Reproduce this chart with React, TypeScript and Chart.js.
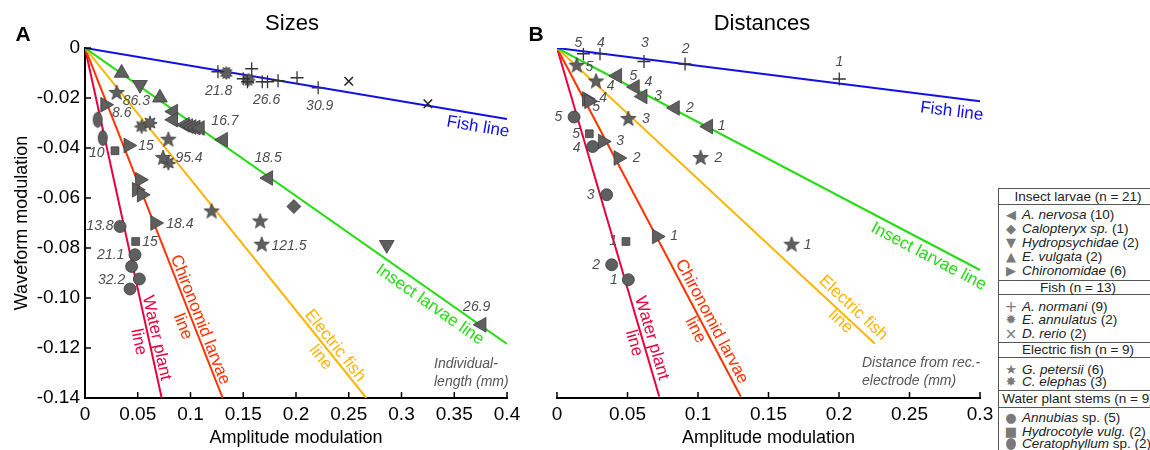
import React, { useEffect, useRef } from 'react';
import { Chart, registerables } from 'chart.js';
Chart.register(...registerables);

const FONT = '"Liberation Sans", Arial, Helvetica, sans-serif';
const FILL = '#5f5f5f';
const EDGE = '#3c3c3c';

// ---------- tick labels ----------
const yTickLabels = ['-0.14', '-0.12', '-0.10', '-0.08', '-0.06', '-0.04', '-0.02', '0'];
const xTickLabelsA = ['0', '0.05', '0.1', '0.15', '0.2', '0.25', '0.3', '0.35', '0.4'];
const xTickLabelsB = ['0', '0.05', '0.1', '0.15', '0.2', '0.25', '0.3'];

// ---------- reference lines (origin -> end point) ----------
const lineNames = ['Fish line', 'Insect larvae line', 'Electric fish line', 'Chironomid larvae line', 'Water plant line'];
const lineColors = ['#1010e6', '#22dd10', '#ffb400', '#ff3300', '#e8003c'];
const lineEndsA = [[0.4, -0.0284], [0.4, -0.1184], [0.2667, -0.14], [0.1305, -0.14], [0.0727, -0.14]];
const lineEndsB = [[0.3, -0.0213], [0.3, -0.0888], [0.2255, -0.1183], [0.1303, -0.1394], [0.0725, -0.1394]];
const lineLabelTexts = [['Fish line'], ['Insect larvae line'], ['Electric fish', 'line'], ['Chironomid larvae', 'line'], ['Water plant', 'line']];
const lineLabelPosA = [[0.3725, -0.0316], [0.327, -0.1027], [0.237, -0.1191], [0.109, -0.1087], [0.0679, -0.116]];
const lineLabelPosB = [[0.28, -0.0254], [0.2635, -0.0834], [0.2101, -0.104], [0.1097, -0.1094], [0.0672, -0.116]];

// ---------- panel A (sizes) ----------
const nervosaA = [[0.0837, -0.0254], [0.0837, -0.0287], [0.0948, -0.0307], [0.098, -0.0312], [0.1011, -0.0316], [0.105, -0.0318], [0.109, -0.032], [0.131, -0.0367], [0.1738, -0.052], [0.376, -0.1107]];
const calopteryxA = [[0.198, -0.0634]];
const hydropsychidaeA = [[0.0521, -0.0147], [0.286, -0.0787]];
const vulgataA = [[0.0347, -0.01], [0.071, -0.0199]];
const chironomidaeA = [[0.019, -0.0227], [0.041, -0.039], [0.052, -0.0527], [0.049, -0.0567], [0.0537, -0.0587], [0.0664, -0.07]];
const normaniA = [[0.126, -0.0095], [0.158, -0.0083], [0.15, -0.0123], [0.154, -0.0135], [0.168, -0.0135], [0.173, -0.0135], [0.183, -0.0131], [0.201, -0.0119], [0.221, -0.0159]];
const annulatusA = [[0.134, -0.01], [0.155, -0.0127]];
const rerioA = [[0.25, -0.0133], [0.325, -0.0223]];
const petersiiA = [[0.03, -0.018], [0.079, -0.0367], [0.074, -0.044], [0.12, -0.0654], [0.166, -0.0694], [0.1675, -0.0787]];
const elephasA = [[0.0537, -0.0314], [0.0616, -0.03], [0.079, -0.046]];
const annubiasA = [[0.0332, -0.0714], [0.0474, -0.0827], [0.0442, -0.0874], [0.0515, -0.0924], [0.0427, -0.0964]];
const hydrocotyleA = [[0.0284, -0.0411], [0.048, -0.0774]];
const ceratophyllumA = [[0.012, -0.0287], [0.0168, -0.036]];

const sizeLabelTexts = ['21.8', '26.6', '30.9', '86.3', '8.6', '16.7', '15', '10', '95.4', '18.5', '13.8', '18.4', '15', '21.1', '32.2', '121.5', '26.9'];
const sizeLabelPos = [[0.1267, -0.0174], [0.1722, -0.0207], [0.2225, -0.0234], [0.0487, -0.0211], [0.0348, -0.026], [0.1327, -0.0294], [0.0578, -0.0394], [0.0111, -0.0419], [0.0986, -0.0439], [0.1735, -0.0439], [0.0142, -0.0714], [0.09, -0.0703], [0.0616, -0.0778], [0.0244, -0.0827], [0.0253, -0.0927], [0.1934, -0.0794], [0.3713, -0.1036]];

// ---------- panel B (distances) ----------
const nervosaB = [[0.0428, -0.0111], [0.0553, -0.0156], [0.0608, -0.0194], [0.0837, -0.024], [0.1073, -0.0314]];
const chironomidaeB = [[0.0211, -0.0204], [0.0227, -0.0213], [0.0324, -0.0374], [0.0435, -0.044], [0.0707, -0.0754]];
const normaniB = [[0.0187, -0.0023], [0.0305, -0.0023], [0.0617, -0.0054], [0.0908, -0.0064], [0.2002, -0.0124]];
const petersiiB = [[0.014, -0.0071], [0.0277, -0.0134], [0.0506, -0.0284], [0.1019, -0.044], [0.1664, -0.0787]];
const annubiasB = [[0.0121, -0.0276], [0.0253, -0.0394], [0.0352, -0.0587], [0.0388, -0.0867], [0.0506, -0.0927]];
const hydrocotyleB = [[0.0229, -0.0343], [0.0489, -0.0774]];

const distLabelTexts = ['5', '4', '3', '2', '1', '5', '4', '3', '2', '1', '5', '4', '3', '2', '1', '4', '5', '3', '2', '1', '5', '4', '3', '2', '1', '5', '1'];
const distLabelPos = [
  [0.0151, 0.002], [0.0312, 0.002], [0.0624, 0.002], [0.0913, -0.0003], [0.2002, -0.0058],
  [0.0229, -0.0078], [0.0381, -0.0154], [0.0631, -0.0284], [0.1144, -0.044], [0.1778, -0.0787],
  [0.0541, -0.0111], [0.0648, -0.0138], [0.0718, -0.0194], [0.0943, -0.024], [0.1168, -0.0314],
  [0.0328, -0.02], [0.0277, -0.0238], [0.0447, -0.0374], [0.0565, -0.044], [0.083, -0.0754],
  [0.0009, -0.0276], [0.014, -0.04], [0.0239, -0.0587], [0.0277, -0.0867], [0.0404, -0.0927],
  [0.0135, -0.0343], [0.0399, -0.0774],
];

// ---------- legend ----------
const legendHeaders = ['Insect larvae (n = 21)', 'Fish (n = 13)', 'Electric fish (n = 9)', 'Water plant stems (n = 9)'];
const legendItems = [
  [['◀', 'A. nervosa', ' (10)'], ['◆', 'Calopteryx sp.', ' (1)'], ['▼', 'Hydropsychidae', ' (2)'], ['▲', 'E. vulgata', ' (2)'], ['▶', 'Chironomidae', ' (6)']],
  [['+', 'A. normani', ' (9)'], ['✹', 'E. annulatus', ' (2)'], ['×', 'D. rerio', ' (2)']],
  [['★', 'G. petersii', ' (6)'], ['✸', 'C. elephas', ' (3)']],
  [['●', 'Annubias', ' sp. (5)'], ['■', 'Hydrocotyle vulg.', ' (2)'], ['oval', 'Ceratophyllum', ' sp. (2)']],
];
const legendLayout = [
  { top: 188, h: 17, centers: [215, 229, 243, 257, 271] },
  { top: 280, h: 15, centers: [306.5, 320, 333.5] },
  { top: 342, h: 16, centers: [370, 382] },
  { top: 390, h: 18, centers: [418, 431.5, 444] },
];

function starCanvas(points: number, rOut: number, rIn: number, size: number) {
  const c = document.createElement('canvas');
  c.width = size; c.height = size;
  const g = c.getContext('2d')!;
  g.beginPath();
  for (let i = 0; i < points * 2; i++) {
    const r = i % 2 ? rIn : rOut;
    const a = -Math.PI / 2 + (i * Math.PI) / points;
    g.lineTo(size / 2 + r * Math.cos(a), size / 2 + r * Math.sin(a));
  }
  g.closePath();
  g.fillStyle = FILL; g.fill();
  g.strokeStyle = EDGE; g.lineWidth = 0.8; g.stroke();
  return c;
}
function ovalCanvas() {
  const c = document.createElement('canvas');
  c.width = 12; c.height = 18;
  const g = c.getContext('2d')!;
  g.beginPath();
  g.ellipse(6, 9, 4.5, 7.5, 0, 0, Math.PI * 2);
  g.fillStyle = FILL; g.fill();
  g.strokeStyle = EDGE; g.lineWidth = 0.8; g.stroke();
  return c;
}

function buildMarkers() {
  return {
    nervosa: { pointStyle: 'triangle', rotation: -90, radius: 8.5 },
    calopteryx: { pointStyle: 'rectRot', rotation: 0, radius: 7 },
    hydropsychidae: { pointStyle: 'triangle', rotation: 180, radius: 8.5 },
    vulgata: { pointStyle: 'triangle', rotation: 0, radius: 8.5 },
    chironomidae: { pointStyle: 'triangle', rotation: 90, radius: 8.5 },
    normani: { pointStyle: 'cross', rotation: 0, radius: 6.5, borderColor: '#333', borderWidth: 1.3 },
    annulatus: { pointStyle: starCanvas(12, 6.5, 4.3, 16), rotation: 0, radius: 6 },
    rerio: { pointStyle: 'crossRot', rotation: 0, radius: 6, borderColor: '#222', borderWidth: 1.6 },
    petersii: { pointStyle: starCanvas(5, 8, 3.3, 18), rotation: 0, radius: 6 },
    elephas: { pointStyle: starCanvas(8, 7.2, 3.8, 18), rotation: 0, radius: 6 },
    annubias: { pointStyle: 'circle', rotation: 0, radius: 6 },
    hydrocotyle: { pointStyle: 'rect', rotation: 0, radius: 5.5 },
    ceratophyllum: { pointStyle: ovalCanvas(), rotation: 0, radius: 6 },
  } as any;
}

function makeAnnot(cfg: any) {
  return {
    id: 'annot',
    afterDatasetsDraw(chart: any) {
      const ctx = chart.ctx;
      const xs = chart.scales.x;
      const ys = chart.scales.y;
      ctx.save();
      // inward ticks
      ctx.strokeStyle = '#000';
      ctx.lineWidth = 1.5;
      xs.ticks.forEach((t: any) => {
        const px = xs.getPixelForValue(t.value);
        ctx.beginPath(); ctx.moveTo(px, ys.bottom); ctx.lineTo(px, ys.bottom - 6); ctx.stroke();
      });
      if (cfg.yTicks) {
        ys.ticks.forEach((t: any) => {
          const py = ys.getPixelForValue(t.value);
          ctx.beginPath(); ctx.moveTo(xs.left, py); ctx.lineTo(xs.left + 6, py); ctx.stroke();
        });
      }
      // point labels
      ctx.font = `italic 14px ${FONT}`;
      ctx.fillStyle = '#4d4d4d';
      ctx.textAlign = 'center';
      ctx.textBaseline = 'middle';
      cfg.labelTexts.forEach((t: string, i: number) => {
        const p = cfg.labelPos[i];
        ctx.fillText(t, xs.getPixelForValue(p[0]), ys.getPixelForValue(p[1]));
      });
      // line labels
      ctx.font = `17px ${FONT}`;
      lineLabelTexts.forEach((lines, i) => {
        const end = cfg.lineEnds[i];
        const pos = cfg.lineLabelPos[i];
        const ang = Math.atan2(
          ys.getPixelForValue(end[1]) - ys.getPixelForValue(0),
          xs.getPixelForValue(end[0]) - xs.getPixelForValue(0)
        );
        ctx.save();
        ctx.translate(xs.getPixelForValue(pos[0]), ys.getPixelForValue(pos[1]));
        ctx.rotate(ang);
        ctx.fillStyle = lineColors[i];
        lines.forEach((s, k) => ctx.fillText(s, 0, k * 18.5));
        ctx.restore();
      });
      ctx.restore();
    },
  };
}

function pts(arr: number[][]) {
  return arr.map(([x, y]) => ({ x, y }));
}

function buildConfig(panel: 'A' | 'B', mk: any): any {
  const isA = panel === 'A';
  const series: [string, number[][]][] = isA
    ? [['nervosa', nervosaA], ['calopteryx', calopteryxA], ['hydropsychidae', hydropsychidaeA], ['vulgata', vulgataA], ['chironomidae', chironomidaeA], ['normani', normaniA], ['annulatus', annulatusA], ['rerio', rerioA], ['petersii', petersiiA], ['elephas', elephasA], ['annubias', annubiasA], ['hydrocotyle', hydrocotyleA], ['ceratophyllum', ceratophyllumA]]
    : [['nervosa', nervosaB], ['chironomidae', chironomidaeB], ['normani', normaniB], ['petersii', petersiiB], ['annubias', annubiasB], ['hydrocotyle', hydrocotyleB]];
  const lineEnds = isA ? lineEndsA : lineEndsB;
  const xTicks = isA ? xTickLabelsA : xTickLabelsB;

  const lineSets = lineEnds.map((e, i) => ({
    label: lineNames[i],
    data: [{ x: 0, y: 0 }, { x: e[0], y: e[1] }],
    showLine: true,
    borderColor: lineColors[i],
    borderWidth: 2,
    pointRadius: 0,
    order: 10,
  }));
  const pointSets = series.map(([name, arr]) => {
    const m = mk[name];
    return {
      label: name,
      data: pts(arr),
      showLine: false,
      pointStyle: m.pointStyle,
      rotation: m.rotation,
      pointRadius: m.radius,
      backgroundColor: FILL,
      borderColor: m.borderColor || EDGE,
      borderWidth: m.borderWidth || 0.8,
      order: 1,
    };
  });

  const tickFont = { family: FONT, size: 19 };
  const titleFont = { family: FONT, size: 18 };

  return {
    type: 'scatter',
    data: { datasets: [...lineSets, ...pointSets] },
    options: {
      animation: false,
      responsive: false,
      devicePixelRatio: 1,
      layout: { padding: isA ? { left: 0, top: 48, right: 23, bottom: 0 } : { left: 27, top: 48, right: 30, bottom: 0 } },
      plugins: { legend: { display: false }, tooltip: { enabled: false } },
      scales: {
        x: {
          type: 'linear',
          min: 0,
          max: isA ? 0.4 : 0.3,
          ticks: {
            stepSize: 0.05,
            autoSkip: false,
            maxRotation: 0,
            padding: 5,
            color: '#000',
            font: tickFont,
            callback: (_v: any, i: number) => xTicks[i],
          },
          grid: { display: true, drawOnChartArea: false, drawTicks: false },
          border: { display: true, color: '#000', width: 2 },
          title: { display: true, text: 'Amplitude modulation', color: '#000', font: titleFont, padding: { top: 0, bottom: 1 } },
          afterFit: (s: any) => { s.height = 52; },
        },
        y: isA
          ? {
              type: 'linear',
              min: -0.14,
              max: 0,
              ticks: {
                stepSize: 0.02,
                padding: 5,
                color: '#000',
                font: tickFont,
                callback: (_v: any, i: number) => yTickLabels[i],
              },
              grid: { display: true, drawOnChartArea: false, drawTicks: false },
              border: { display: true, color: '#000', width: 2 },
              title: { display: true, text: 'Waveform modulation', color: '#000', font: titleFont, padding: { top: 11, bottom: 0 } },
              afterFit: (s: any) => { s.width = 85; },
            }
          : { type: 'linear', min: -0.14, max: 0, display: false },
      },
    },
    plugins: [
      makeAnnot({
        yTicks: isA,
        labelTexts: isA ? sizeLabelTexts : distLabelTexts,
        labelPos: isA ? sizeLabelPos : distLabelPos,
        lineEnds,
        lineLabelPos: isA ? lineLabelPosA : lineLabelPosB,
      }),
    ],
  };
}

function Txt(props: any) {
  const { cx, cy, size, weight, italic, color, children, align } = props;
  const left = align === 'left' ? cx : cx - 200;
  return (
    <div
      style={{
        position: 'absolute',
        left,
        top: cy - size * 0.59,
        width: align === 'left' ? 300 : 400,
        textAlign: align === 'left' ? 'left' : 'center',
        fontFamily: FONT,
        fontSize: size,
        fontWeight: weight || 'normal',
        fontStyle: italic ? 'italic' : 'normal',
        lineHeight: `${size * 1.2}px`,
        color: color || '#000',
        whiteSpace: 'nowrap',
      }}
    >
      {children}
    </div>
  );
}

function Legend() {
  const left = 998;
  const width = 158;
  const rows: any[] = [];
  legendHeaders.forEach((h, gi) => {
    const L = legendLayout[gi];
    rows.push(
      <div key={'h' + gi} style={{ position: 'absolute', left: 0, top: L.top - 188, width, height: L.h, borderTop: '1px solid #555', borderBottom: '1px solid #555', boxSizing: 'border-box', textAlign: 'center', lineHeight: `${L.h - 2}px`, fontSize: 13.5, color: '#222', whiteSpace: 'nowrap' }}>
        {h}
      </div>
    );
    legendItems[gi].forEach((it, ii) => {
      const cy = L.centers[ii] - 188;
      const big = it[0] === '+' || it[0] === '×';
      rows.push(
        <div key={'i' + gi + '_' + ii} style={{ position: 'absolute', left: 0, top: cy - 8, height: 16, width, lineHeight: '16px', fontSize: 13.5, color: '#222', whiteSpace: 'nowrap' }}>
          {it[0] === 'oval' ? (
            <span style={{ position: 'absolute', left: 7, top: 2, width: 10, height: 12, borderRadius: '50%', background: '#7a7a7a' }} />
          ) : (
            <span style={{ position: 'absolute', left: 3, width: 18, textAlign: 'center', fontFamily: '"DejaVu Sans", sans-serif', fontSize: big ? 15 : 13, color: '#7a7a7a' }}>{it[0]}</span>
          )}
          <span style={{ position: 'absolute', left: 23 }}>
            <i>{it[1]}</i>{it[2]}
          </span>
        </div>
      );
    });
  });
  return (
    <div style={{ position: 'absolute', left, top: 188, width, height: 270, borderLeft: '1px solid #555', background: '#fff', fontFamily: FONT, zIndex: 2 }}>
      {rows}
    </div>
  );
}

export default function App() {
  const refA = useRef<HTMLCanvasElement>(null);
  const refB = useRef<HTMLCanvasElement>(null);
  useEffect(() => {
    const mk = buildMarkers();
    const ca = new Chart(refA.current as HTMLCanvasElement, buildConfig('A', mk));
    const cb = new Chart(refB.current as HTMLCanvasElement, buildConfig('B', mk));
    return () => { ca.destroy(); cb.destroy(); };
  }, []);
  return (
    <div style={{ position: 'fixed', left: 0, top: 0, width: 1150, height: 450, overflow: 'hidden', background: '#fff' }}>
      <canvas ref={refA} width={530} height={450} style={{ position: 'absolute', left: 0, top: 0, width: 530, height: 450 }} />
      <canvas ref={refB} width={480} height={450} style={{ position: 'absolute', left: 530, top: 0, width: 480, height: 450 }} />
      <Txt cx={23} cy={33} size={21} weight="bold">A</Txt>
      <Txt cx={292} cy={23} size={22}>Sizes</Txt>
      <Txt cx={536} cy={33} size={21} weight="bold">B</Txt>
      <Txt cx={762} cy={23} size={22}>Distances</Txt>
      <Txt cx={434} cy={363} size={14} italic color="#555" align="left">Individual-</Txt>
      <Txt cx={434} cy={381.5} size={14} italic color="#555" align="left">length (mm)</Txt>
      <Txt cx={862} cy={362.7} size={14} italic color="#555" align="left">Distance from rec.-</Txt>
      <Txt cx={862} cy={380.7} size={14} italic color="#555" align="left">electrode (mm)</Txt>
      <Legend />
    </div>
  );
}
